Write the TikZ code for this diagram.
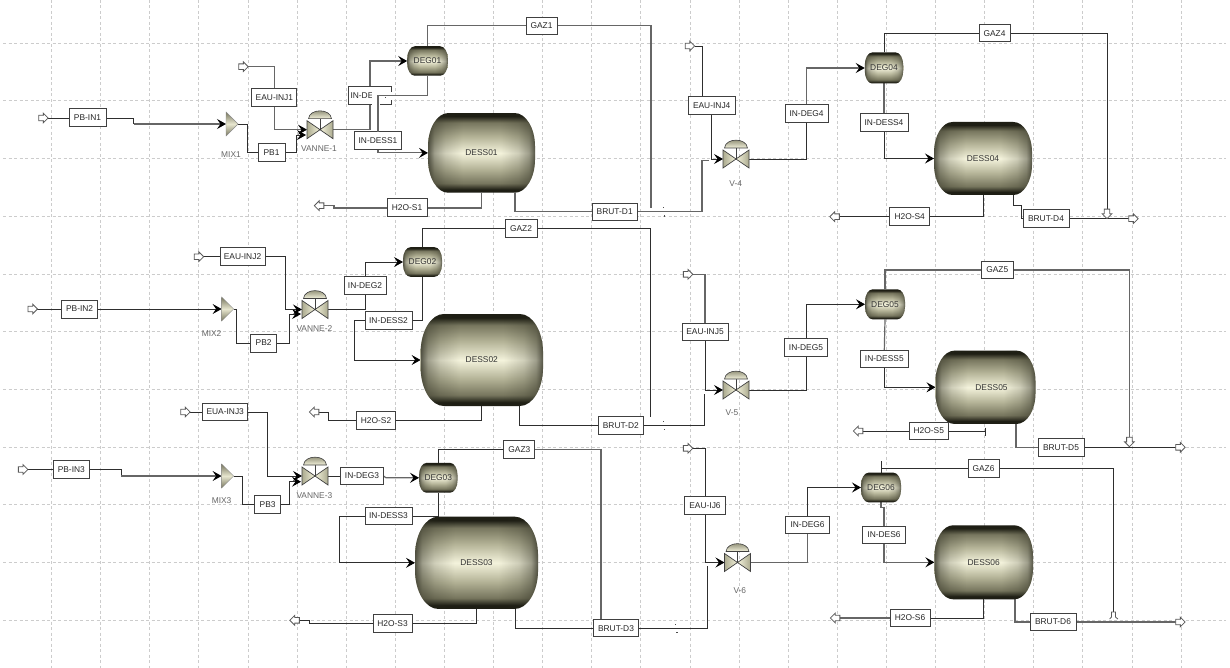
\documentclass[tikz,border=0pt]{standalone}
\usepackage{fontspec}
\setmainfont{Liberation Sans}
\usetikzlibrary{arrows.meta,shapes.arrows,fadings,calc}
\definecolor{wirec}{HTML}{2E2E2E}
\definecolor{wireg}{HTML}{666666}
\definecolor{gridc}{HTML}{CCCCCC}
\definecolor{vd}{HTML}{1E1E14}
\definecolor{vm}{HTML}{77765E}
\definecolor{vn}{HTML}{B5B498}
\definecolor{vl}{HTML}{F4F3DC}
\pgfdeclareverticalshading{vessv}{100bp}{color(0bp)=(vd); color(25bp)=(vd); color(27bp)=(vd); color(31bp)=(vm); color(40bp)=(vn); color(50bp)=(vl); color(60bp)=(vn); color(69bp)=(vm); color(73bp)=(vd); color(75bp)=(vd); color(100bp)=(vd)}
\pgfdeclarehorizontalshading{sideshade}{100bp}{color(0bp)=(white); color(25bp)=(white!80!black); color(28bp)=(white!42!black); color(33bp)=(white!18!black); color(41bp)=(black); color(59bp)=(black); color(67bp)=(white!18!black); color(72bp)=(white!42!black); color(75bp)=(white!80!black); color(100bp)=(white)}
\pgfdeclarefading{sidefade}{\pgfuseshading{sideshade}}
\pgfdeclarelayer{bg}
\pgfsetlayers{bg,main}
\tikzset{
  stream/.style={draw=black!75,line width=1pt,fill=white,inner sep=0pt,outer sep=0pt,text=black!85,font=\fontsize{8.4}{10}\selectfont},
  wire/.style={draw=wirec,line width=0.9pt},
  gwire/.style={draw=wireg,line width=1.2pt},
  >={Stealth[length=9pt,width=10pt,inset=3.5pt,black]},
  gridline/.style={draw=gridc,line width=0.6pt,dash pattern=on 3pt off 2.5pt},
  hollow/.style={single arrow,draw=black!65,line width=0.8pt,fill=white,minimum height=9.5pt,minimum width=9.5pt,single arrow head extend=2pt,inner sep=2.4pt,outer sep=0pt},
  eqlabel/.style={inner sep=0pt,text=black!60,font=\fontsize{8.4}{10}\selectfont},
  equip/.style={inner sep=0pt,outer sep=0pt,text=black!80,font=\fontsize{8.4}{10}\selectfont},
  speck/.style={fill=black!70}
}
\newcommand{\stm}[6]{\node[stream,minimum width=#4pt,minimum height=#5pt] (#1) at (#2,#3) {#6};}
\newcommand{\vess}[7][0pt]{%
  \pgfmathsetmacro\xL{#3-#5/2}\pgfmathsetmacro\xR{#3+#5/2}%
  \pgfmathsetmacro\yT{#4-#6/2}\pgfmathsetmacro\yB{#4+#6/2}%
  \pgfmathsetmacro\rX{0.19*#5}\pgfmathsetmacro\rY{0.42*#6}%
  \pgfmathsetmacro\kX{0.45*\rX}\pgfmathsetmacro\kY{0.45*\rY}%
  \path[shading=vessv,postaction={fill=vd!85!vm,path fading=sidefade}]
    (\xL+\rX,\yT) -- (\xR-\rX,\yT) .. controls (\xR-\kX,\yT) and (\xR,\yT+\kY) .. (\xR,\yT+\rY)
    -- (\xR,\yB-\rY) .. controls (\xR,\yB-\kY) and (\xR-\kX,\yB) .. (\xR-\rX,\yB)
    -- (\xL+\rX,\yB) .. controls (\xL+\kX,\yB) and (\xL,\yB-\kY) .. (\xL,\yB-\rY)
    -- (\xL,\yT+\rY) .. controls (\xL,\yT+\kY) and (\xL+\kX,\yT) .. (\xL+\rX,\yT) -- cycle;
  \node[equip,minimum width=#5pt,minimum height=#6pt] (#2) at (#3,#4) {\hspace*{#1}#7};}
\newcommand{\valv}[3]{%
  \draw[draw=black!75,line width=0.7pt,left color=vn!85!vm,right color=vl] (#2-13,#3-9) -- (#2,#3) -- (#2-13,#3+9) -- cycle;
  \draw[draw=black!75,line width=0.7pt,left color=vl,right color=vn!85!vm] (#2+13,#3-9) -- (#2,#3) -- (#2+13,#3+9) -- cycle;
  \draw[black!75,line width=0.7pt] (#2,#3) -- (#2,#3-11);
  \draw[draw=black!75,line width=0.6pt,top color=vm,bottom color=vl] (#2-11.5,#3-11) .. controls (#2-10.5,#3-21.5) and (#2+10.5,#3-21.5) .. (#2+11.5,#3-11) -- cycle;
  \node[inner sep=0pt,outer sep=0pt,minimum width=26pt,minimum height=18pt] (#1) at (#2,#3) {};}
\newcommand{\mixr}[3]{%
  \draw[draw=black!45,line width=0.4pt,top color=vm,bottom color=vm,middle color=vl!90!vm] (#2,#3-12) -- (#2+12,#3) -- (#2,#3+12) -- cycle;
  \node[inner sep=0pt,outer sep=0pt,minimum width=12pt,minimum height=24pt] (#1) at (#2+6,#3) {};}
\begin{document}
\begin{tikzpicture}[x=1pt,y=-1pt]
\useasboundingbox (0,0) rectangle (1230,668);

% equipment
\vess{dess01}{481.5}{152.9}{107}{79.7}{DESS01}
\vess{deg01}{427.5}{61}{40.6}{29.5}{DEG01}
\vess{dess02}{481.8}{360}{122.4}{92}{DESS02}
\vess{deg02}{422.5}{262}{39}{29.6}{DEG02}
\vess{dess03}{476.5}{562.8}{123}{92.3}{DESS03}
\vess{deg03}{438.3}{477.8}{38.5}{29.7}{DEG03}
\vess{dess04}{983}{158.5}{98}{73}{DESS04}
\vess{deg04}{884}{68}{38.5}{31}{DEG04}
\vess[12pt]{dess05}{985.5}{387.3}{100}{73.3}{DESS05}
\vess{deg05}{885}{304.3}{40}{30}{DEG05}
\vess{dess06}{983.7}{562.3}{98.6}{74}{DESS06}
\vess{deg06}{881}{487.5}{40}{29.6}{DEG06}

\valv{vanne1}{320}{129.7}
\valv{vanne2}{315}{309.5}
\valv{vanne3}{315}{476}
\valv{v4}{736}{159}
\valv{v5}{736}{390}
\valv{v6}{737.5}{562.5}
\mixr{mix1}{226}{124}
\mixr{mix2}{221.6}{309}
\mixr{mix3}{221.6}{476}

% stream boxes
\stm{pbin1}{87.5}{118}{37}{18}{PB-IN1}
\stm{eauinj1}{274.4}{98}{45}{18}{EAU-INJ1}
\stm{pb1}{271.5}{152.7}{27}{18}{PB1}
\node[stream,minimum width=43pt,minimum height=17.5pt,text width=39pt,align=left] (inde) at (370,95.5) {IN-DE};
\stm{indess1}{378}{141}{47}{18}{IN-DESS1}
\stm{gaz1}{541.5}{25.7}{31}{17}{GAZ1}
\stm{h2os1}{407}{208}{40}{18}{H2O-S1}
\stm{brut1}{614.7}{211.7}{45}{17}{BRUT-D1}
\stm{pbin2}{79.6}{309}{36}{18}{PB-IN2}
\stm{eauinj2}{242.5}{256.7}{45}{17.6}{EAU-INJ2}
\stm{pb2}{263.6}{343}{26}{18}{PB2}
\stm{indeg2}{365}{285.5}{42}{17.6}{IN-DEG2}
\stm{gaz2}{521}{228.3}{32}{17.6}{GAZ2}
\stm{indess2}{388.5}{320.3}{47}{17.6}{IN-DESS2}
\stm{h2os2}{376}{420.3}{38.5}{17.6}{H2O-S2}
\stm{brut2}{620.8}{425.3}{45.5}{17.6}{BRUT-D2}
\stm{euainj3}{225.2}{412}{45.5}{17.6}{EUA-INJ3}
\stm{pbin3}{71.3}{469.5}{36}{17.6}{PB-IN3}
\stm{pb3}{267.6}{504.7}{26}{17.6}{PB3}
\stm{indeg3}{362}{476}{43}{17.6}{IN-DEG3}
\stm{gaz3}{519.4}{449.3}{31}{18}{GAZ3}
\stm{indess3}{388.5}{516}{47}{17.6}{IN-DESS3}
\stm{h2os3}{392.5}{623.7}{39}{17.6}{H2O-S3}
\stm{brut3}{616}{628.3}{45.8}{17.3}{BRUT-D3}
\stm{eauinj4}{711.7}{106}{47}{18}{EAU-INJ4}
\stm{indeg4}{806.6}{113.5}{43}{17.5}{IN-DEG4}
\stm{gaz4}{994.5}{33.3}{31}{17}{GAZ4}
\stm{indess4}{884}{123}{48}{18}{IN-DESS4}
\stm{h2os4}{909.7}{216.7}{40}{17.5}{H2O-S4}
\stm{brut4}{1046}{218.7}{46}{17.5}{BRUT-D4}
\stm{eauinj5}{705}{332}{46}{17.6}{EAU-INJ5}
\stm{indeg5}{806}{347.5}{42.4}{17.6}{IN-DEG5}
\stm{gaz5}{997.3}{270}{31.4}{17.6}{GAZ5}
\stm{indess5}{884.3}{358.7}{47.4}{17.4}{IN-DESS5}
\stm{h2os5}{928.8}{431}{39.6}{17.3}{H2O-S5}
\stm{brut5}{1061}{447.3}{46}{18}{BRUT-D5}
\stm{eauij6}{705}{505.6}{41}{17.3}{EAU-IJ6}
\stm{indeg6}{807.6}{524.7}{43.3}{17.3}{IN-DEG6}
\stm{gaz6}{983.5}{468.3}{31}{18}{GAZ6}
\stm{indess6}{884}{535}{43}{17.7}{IN-DES6}
\stm{h2os6}{910}{618}{40}{17.4}{H2O-S6}
\stm{brut6}{1053}{622}{46}{17.4}{BRUT-D6}

% equipment names
\node[eqlabel] (lmix1) at (231,155) {MIX1};
\node[eqlabel] (lmix2) at (211.6,334) {MIX2};
\node[eqlabel] (lmix3) at (221.6,501) {MIX3};
\node[eqlabel] (lv1) at (319,149) {VANNE-1};
\node[eqlabel] (lv2) at (314.4,328.7) {VANNE-2};
\node[eqlabel] (lv3) at (314.4,495.7) {VANNE-3};
\node[eqlabel] (lv4) at (735.7,184) {V-4};
\node[eqlabel] (lv5) at (732,413) {V-5};
\node[eqlabel] (lv6) at (739.8,590.7) {V-6};

% hollow port arrows
\node[hollow] (fpb1) at (42,118) {};
\node[hollow] (feau1) at (242,66.7) {};
\node[hollow,shape border rotate=180] (ph1) at (320.5,205.7) {};
\node[hollow] (fpb2) at (31.3,309) {};
\node[hollow] (feau2) at (197.5,256.7) {};
\node[hollow,shape border rotate=180] (ph2) at (315.5,412) {};
\node[hollow] (feau3) at (184,412) {};
\node[hollow] (fpb3) at (21.7,469.5) {};
\node[hollow,shape border rotate=180] (ph3) at (296,620.3) {};
\node[hollow] (feau4) at (688.5,46) {};
\node[hollow,shape border rotate=180] (ph4) at (836,216.7) {};
\node[hollow] (pb4) at (1132,218.7) {};
\node[hollow,shape border rotate=270] (pg4) at (1107,212.5) {};
\node[hollow] (feau5) at (686.7,274.3) {};
\node[hollow,shape border rotate=180] (ph5) at (859.5,431) {};
\node[hollow] (pb5) at (1179,447.3) {};
\node[hollow,shape border rotate=270] (pg5) at (1129.4,440.5) {};
\node[hollow] (feau6) at (686.7,448.3) {};
\node[hollow,shape border rotate=180] (ph6) at (836.5,618) {};
\node[hollow] (pb6) at (1179,622) {};
\draw[black!65,line width=0.8pt,fill=white] (1109.6,619) -- (1111.5,617) -- (1111.5,612) -- (1115.5,612) -- (1115.5,617) -- (1117.8,619);
\coordinate (pg6) at (1113.5,612);

% free ends
\coordinate (v1b) at (306,135);
\coordinate (v2b) at (301,314);
\coordinate (v3b) at (301,481.7);
\coordinate (gaz1end) at (651,208);
\coordinate (gaz2end) at (650.5,416.7);
\coordinate (brut1end) at (708.6,160.3);
\coordinate (brut2end) at (704,394);
\coordinate (brut3end) at (707,566);
\coordinate (tick5) at (985,431);
\coordinate (stub6) at (881,461);

% IN-DE box is partly erased by the overlapping stream
\fill[white] (372,91.8) rectangle (392,100);
\fill[white] (372,100) rectangle (380,105);
\draw[gwire] (deg01.south) |- (378,95.5) -- (indess1.north);
\fill[speck] (384.5,97.5) rectangle (385.5,98.5);

% specks
\fill[speck] (662.5,207.5) rectangle (663.5,208.5);
\fill[speck] (663.5,215.5) rectangle (665,217);
\fill[speck] (662.5,420.5) rectangle (663.5,421.5);
\fill[speck] (663.5,428.5) rectangle (665,430);
\fill[speck] (675,623.5) rectangle (676,624.5);
\fill[speck] (676,631.5) rectangle (677.5,633);

\begin{pgfonlayer}{bg}
\fill[white] (0,0) rectangle (1230,668);
\foreach \k in {0,...,23} \draw[gridline] ({51.4+49.11*\k},0) -- ({51.4+49.11*\k},668);
\foreach \k in {0,...,10} \draw[gridline] (3,{43+57.7*\k}) -- (1226,{43+57.7*\k});

% block 1
\draw[wire] (fpb1.tip) -- (pbin1.west);
\draw[wire] (pbin1.east) -| (133.6,124);
\draw[gwire,->] (133.6,124) -- (mix1.west);
\draw[wire] (mix1.east) -- (247,124) |- (pb1.west);
\draw[wire,->] (pb1.east) -| (296,135) -- (v1b);
\draw[gwire] (feau1.tip) -| (eauinj1.north);
\draw[gwire,->] (eauinj1.south) |- (vanne1.west);
\draw[gwire] (vanne1.east) -| (inde.south);
\draw[gwire,->] (inde.north) |- (deg01.west);
\draw[gwire] (deg01.north) |- (gaz1.west);
\draw[gwire] (gaz1.east) -| (gaz1end);
\draw[gwire,->] (indess1.south) |- (dess01.west);
\draw[gwire] (dess01.south) |- (h2os1.east);
\draw[gwire] (h2os1.west) -| (334,205.7) -- (ph1.tail);
\draw[gwire] (515,0 |- dess01.south) |- (brut1.west);
\draw[gwire] (brut1.east) -| (702,160.3) -- (brut1end);

% block 2
\draw[wire] (fpb2.tip) -- (pbin2.west);
\draw[wire,->] (pbin2.east) -- (mix2.west);
\draw[wire] (mix2.east) -- (236.8,309) |- (pb2.west);
\draw[wire,->] (pb2.east) -| (289.7,314) -- (v2b);
\draw[wire] (feau2.tip) -- (eauinj2.west);
\draw[wire,->] (eauinj2.east) -| (285,309.5) -- (vanne2.west);
\draw[wire] (vanne2.east) -| (indeg2.south);
\draw[wire,->] (indeg2.north) |- (deg02.west);
\draw[wire] (deg02.north) |- (gaz2.west);
\draw[wire] (gaz2.east) -| (gaz2end);
\draw[wire] (deg02.south) |- (indess2.east);
\draw[wire,->] (indess2.west) -| (354,360) -- (dess02.west);
\draw[wire] (dess02.south) |- (h2os2.east);
\draw[wire] (h2os2.west) -| (328,412) -- (ph2.tail);
\draw[wire] (519.5,0 |- dess02.south) |- (brut2.west);
\draw[wire] (brut2.east) -| (brut2end);

% block 3
\draw[wire] (feau3.tip) -- (euainj3.west);
\draw[wire,->] (euainj3.east) -| (267.6,476) -- (vanne3.west);
\draw[wire] (fpb3.tip) -- (pbin3.west);
\draw[wire] (pbin3.east) -| (121.4,476);
\draw[gwire,->] (121.4,476) -- (mix3.west);
\draw[wire] (mix3.east) -- (242,476) |- (pb3.west);
\draw[wire,->] (pb3.east) -| (289.7,481.7) -- (v3b);
\draw[wire] (vanne3.east) -- (indeg3.west);
\draw[gwire,->] (indeg3.east) -- (386,477.8) -- (deg03.west);
\draw[wire] (deg03.north) |- (gaz3.west);
\draw[gwire] (gaz3.east) -| (601,0 |- brut3.north);
\draw[wire] (deg03.south) |- (indess3.east);
\draw[wire,->] (indess3.west) -| (339,562.8) -- (dess03.west);
\draw[wire] (dess03.south) |- (h2os3.east);
\draw[wire] (h2os3.west) -| (309,620.3) -- (ph3.tail);
\draw[wire] (515.6,0 |- dess03.south) |- (brut3.west);
\draw[wire] (brut3.east) -| (brut3end);

% block 4
\draw[wire] (feau4.tip) -| (702.7,0 |- eauinj4.north);
\draw[wire,->] (eauinj4.south) |- (v4.west);
\draw[wire] (v4.east) -| (indeg4.south);
\draw[gwire,->] (indeg4.north) |- (deg04.west);
\draw[wire] (deg04.north) |- (gaz4.west);
\draw[wire] (gaz4.east) -| (pg4.tail);
\draw[gwire] (deg04.south) -- (indess4.north);
\draw[wire,->] (indess4.south) |- (dess04.west);
\draw[wire] (dess04.south) |- (h2os4.east);
\draw[wire] (h2os4.west) -- (ph4.tail);
\draw[wire] (1013,0 |- dess04.south) -- (1013,205) -- (1021,205) |- (brut4.west);
\draw[wire] (brut4.east) -- (pb4.tail);

% block 5
\draw[gwire] (feau5.tip) -| (eauinj5.north);
\draw[wire,->] (eauinj5.south) |- (v5.west);
\draw[wire] (v5.east) -| (indeg5.south);
\draw[wire,->] (indeg5.north) |- (deg05.west);
\draw[gwire] (deg05.north) |- (gaz5.west);
\draw[gwire] (gaz5.east) -| (pg5.tail);
\draw[gwire] (deg05.south) -- (indess5.north);
\draw[wire,->] (indess5.south) |- (dess05.west);
\draw[wire] (h2os5.east) -- (tick5);
\draw[wire] (985,427.7) -- (985,436);
\draw[wire] (h2os5.west) -- (ph5.tail);
\draw[gwire] (1016,0 |- dess05.south) |- (brut5.west);
\draw[wire] (brut5.east) -- (pb5.tail);

% block 6
\draw[wire] (feau6.tip) -| (eauij6.north);
\draw[wire,->] (eauij6.south) |- (v6.west);
\draw[gwire] (v6.east) -| (indeg6.south);
\draw[wire,->] (indeg6.north) |- (deg06.west);
\draw[wire] (stub6) -- (deg06.north);
\draw[wire] (881,468.3) -- (gaz6.west);
\draw[wire] (gaz6.east) -| (pg6);
\draw[gwire] (deg06.south) -- (881,507.7) -- (884,507.7) -- (indess6.north);
\draw[gwire,->] (indess6.south) |- (dess06.west);
\draw[wire] (dess06.south) |- (h2os6.east);
\draw[gwire] (h2os6.west) -- (ph6.tail);
\draw[gwire] (1015,0 |- dess06.south) |- (brut6.west);
\draw[gwire] (brut6.east) -- (pb6.tail);
\end{pgfonlayer}
\end{tikzpicture}
\end{document}
